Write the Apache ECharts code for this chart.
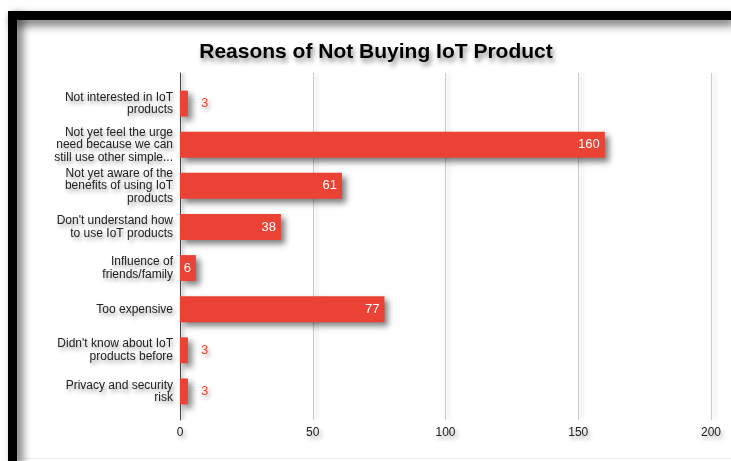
<!DOCTYPE html>
<html>
<head>
<meta charset="utf-8">
<script src="https://cdn.jsdelivr.net/npm/echarts@6/dist/echarts.min.js"></script>
<style>
html,body{margin:0;padding:0;background:#fff;}
#c{width:731px;height:461px;}
</style>
</head>
<body>
<div id="c"></div>
<script>
const titleText = 'Reasons of Not Buying IoT Product';
const categories = [
  'Not interested in IoT\nproducts',
  'Not yet feel the urge\nneed because we can\nstill use other simple...',
  'Not yet aware of the\nbenefits of using IoT\nproducts',
  "Don't understand how\nto use IoT products",
  'Influence of\nfriends/family',
  'Too expensive',
  "Didn't know about IoT\nproducts before",
  'Privacy and security\nrisk'
];
const values = [3, 160, 61, 38, 6, 77, 3, 3];
const xMin = 0, xMax = 200, xStep = 50;

const RED = '#ea4335';
const FONT = '"Liberation Sans", Arial, sans-serif';
const txtShadow = {textShadowColor:'rgba(0,0,0,0.4)', textShadowBlur:4, textShadowOffsetX:2, textShadowOffsetY:3};

const chart = echarts.init(document.getElementById('c'), null, {renderer:'canvas'});

const data = values.map(v => {
  const outside = v <= 3;
  return {
    value: v,
    label: outside
      ? Object.assign({position:'right', distance:13, color:RED}, txtShadow)
      : {position:'insideRight', distance:5, color:'#fff'}
  };
});

chart.setOption({
  backgroundColor:'#fff',
  animation:false,
  graphic:[
    {type:'rect', shape:{x:8, y:11, width:723, height:9}, style:{fill:'#000', shadowColor:'rgba(0,0,0,0.6)', shadowBlur:10, shadowOffsetX:4, shadowOffsetY:5}, z:10},
    {type:'rect', shape:{x:8, y:11, width:9, height:450}, style:{fill:'#000', shadowColor:'rgba(0,0,0,0.6)', shadowBlur:10, shadowOffsetX:5, shadowOffsetY:4}, z:10},
    {type:'line', shape:{x1:17, y1:458.5, x2:731, y2:458.5}, style:{stroke:'#eee', lineWidth:1}, z:1}
  ],
  title:{
    text:titleText, left:371, textAlign:'center', top:37,
    textStyle:{fontFamily:FONT, fontWeight:'bold', fontSize:21, color:'#000',
      textShadowColor:'rgba(0,0,0,0.45)', textShadowBlur:5, textShadowOffsetX:2, textShadowOffsetY:4}
  },
  grid:[
    {left:180, top:73, width:531, height:347},
    {left:180, top:83, width:531, height:329}
  ],
  xAxis:[
    {type:'value', gridIndex:0, min:xMin, max:xMax, interval:xStep,
     axisLine:{show:false}, axisTick:{show:false},
     axisLabel:Object.assign({fontFamily:FONT, fontSize:12, color:'#222', margin:7}, txtShadow),
     splitLine:{lineStyle:{color:'#ccc', width:1, shadowColor:'rgba(0,0,0,0.2)', shadowBlur:4, shadowOffsetX:3, shadowOffsetY:0}}},
    {type:'value', gridIndex:1, min:xMin, max:xMax, interval:xStep, show:false, splitLine:{show:false}}
  ],
  yAxis:[
    {type:'category', gridIndex:0, data:[''], axisTick:{show:false}, axisLabel:{show:false},
     axisLine:{show:true, lineStyle:{color:'#444', width:1, shadowColor:'rgba(0,0,0,0.3)', shadowBlur:3, shadowOffsetX:2}}},
    {type:'category', gridIndex:1, data:categories, inverse:true,
     axisLine:{show:false}, axisTick:{show:false},
     axisLabel:Object.assign({fontFamily:FONT, fontSize:12, color:'#222', margin:7, lineHeight:12.5, align:'right'}, txtShadow)}
  ],
  series:[{
    type:'bar', xAxisIndex:1, yAxisIndex:1,
    data:data, barCategoryGap:'37%',
    itemStyle:{color:RED, shadowColor:'rgba(0,0,0,0.5)', shadowBlur:6, shadowOffsetX:4, shadowOffsetY:4},
    label:{show:true, fontFamily:FONT, fontSize:13}
  }]
});
</script>
</body>
</html>
